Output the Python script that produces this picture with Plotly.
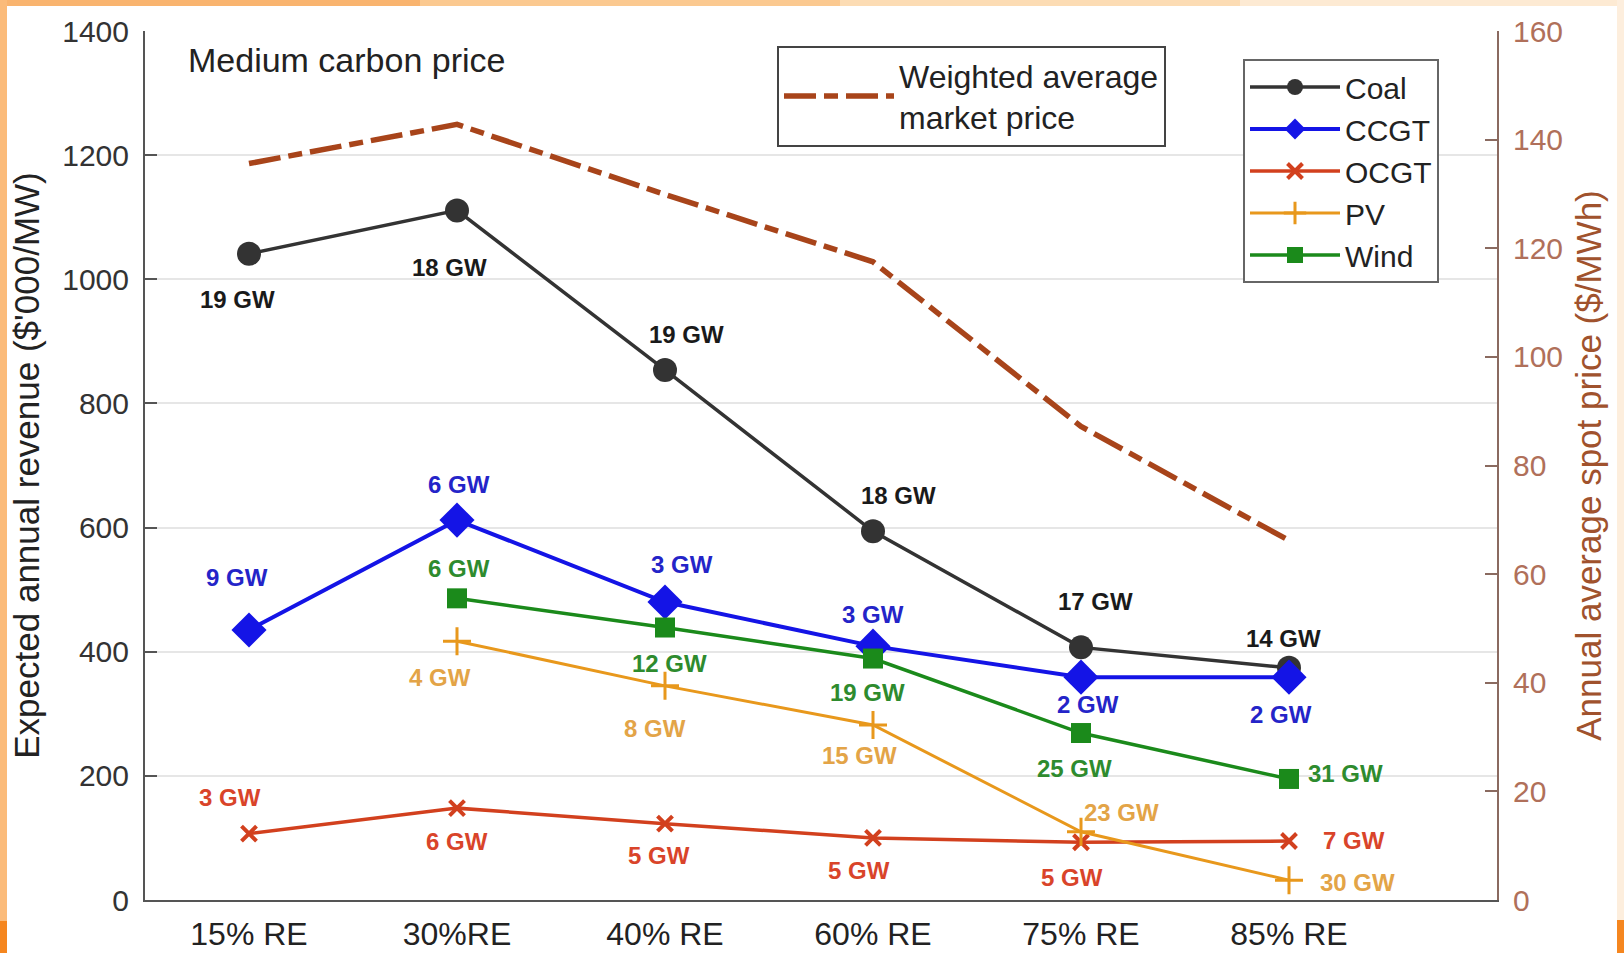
import plotly.graph_objects as go

# ---------------- data ----------------
categories = ["15% RE", "30%RE", "40% RE", "60% RE", "75% RE", "85% RE"]
coal = [1041, 1111, 854, 594, 407, 374]
ccgt = [435, 612, 480, 409, 359, 359]
ocgt = [107, 148, 123, 100, 93, 95]
pv = [None, 417, 345, 282, 110, 32]
wind = [None, 486, 439, 389, 269, 195]
price = [135.6, 142.8, 129.9, 117.5, 87.2, 66.2]

coal_labels = ["19 GW", "18 GW", "19 GW", "18 GW", "17 GW", "14 GW"]
ccgt_labels = ["9 GW", "6 GW", "3 GW", "3 GW", "2 GW", "2 GW"]
ocgt_labels = ["3 GW", "6 GW", "5 GW", "5 GW", "5 GW", "7 GW"]
pv_labels = [None, "4 GW", "8 GW", "15 GW", "23 GW", "30 GW"]
wind_labels = [None, "6 GW", "12 GW", "19 GW", "25 GW", "31 GW"]

# ---------------- label offsets (pixels) ----------------
coal_off = [(-12, -46), (-8, -57), (21, 35), (25, 36), (14, 46), (-6, 29)]
ccgt_off = [(-12, 52), (2, 36), (17, 38), (0, 32), (7, -27), (-8, -37)]
ocgt_off = [(-19, 36), (0, -33), (-6, -32), (-14, -33), (-9, -35), (65, 1)]
pv_off = [None, (-17, -36), (-10, -43), (-14, -31), (40, 19), (68, -2)]
wind_off = [None, (2, 30), (4, -36), (-6, -34), (-7, -35), (56, 5)]

x_idx = list(range(len(categories)))

FONT = "Liberation Sans, Arial, sans-serif"

fig = go.Figure()

fig.add_trace(go.Scatter(
    x=x_idx, y=price, yaxis="y2", mode="lines",
    name="Weighted average<br>market price",
    line=dict(color="#A8441A", width=5.5, dash="32px,8px,14px,8px"),
    legend="legend",
))

series = [
    ("Coal", coal, dict(color="#333333", width=3.5), dict(symbol="circle", size=24, color="#333333")),
    ("CCGT", ccgt, dict(color="#1414E6", width=4), dict(symbol="diamond", size=27, color="#1414E6")),
    ("OCGT", ocgt, dict(color="#D2401E", width=3.5), dict(symbol="x-thin", size=15, line=dict(color="#D2401E", width=4))),
    ("PV", pv, dict(color="#E8981C", width=3), dict(symbol="cross-thin", size=20, line=dict(color="#E8981C", width=3))),
    ("Wind", wind, dict(color="#1B8A1B", width=3.5), dict(symbol="square", size=20, color="#1B8A1B")),
]
for name, vals, line, marker in series:
    fig.add_trace(go.Scatter(
        x=x_idx, y=vals, mode="lines+markers", name=name,
        line=line, marker=marker, legend="legend2",
    ))

label_sets = [
    (coal, coal_labels, coal_off, "#1a1a1a"),
    (ccgt, ccgt_labels, ccgt_off, "#2424C8"),
    (ocgt, ocgt_labels, ocgt_off, "#D9442A"),
    (pv, pv_labels, pv_off, "#E3A447"),
    (wind, wind_labels, wind_off, "#2E8B2E"),
]
for vals, labels, offs, color in label_sets:
    for i, (v, lab, off) in enumerate(zip(vals, labels, offs)):
        if v is None or lab is None:
            continue
        fig.add_annotation(
            x=x_idx[i], y=v, xref="x", yref="y", text="<b>%s</b>" % lab,
            showarrow=False, xshift=off[0], yshift=off[1],
            font=dict(size=24, color=color, family=FONT),
            xanchor="center", yanchor="middle",
        )

# ---------------- layout geometry ----------------
W, H = 1624, 953
ML, MR, MT, MB = 145, 127, 31, 53
PW, PH = W - ML - MR, H - MT - MB


def px(xp):
    return (xp - ML) / PW


def py(yp):
    return (H - MB - yp) / PH


fig.add_annotation(
    x=px(186), y=py(60), xref="paper", yref="paper", text="Medium carbon price",
    showarrow=False, xanchor="left", yanchor="middle",
    font=dict(size=34, color="#222222", family=FONT),
)

# decorative slide frame
frame = [
    (0, 0, 420, 6, "#F9B46F"),
    (420, 0, 840, 6, "#FBC990"),
    (840, 0, 1240, 6, "#FCDCB4"),
    (1240, 0, 1624, 6, "#FDEAD3"),
    (0, 0, 7, 921, "#FBBB7A"),
    (0, 921, 7, 953, "#F5861F"),
    (1617, 0, 1624, 920, "#FDEEDD"),
    (1617, 920, 1624, 953, "#F5861F"),
]
for x0, y0, x1, y1, c in frame:
    fig.add_shape(type="rect", xref="paper", yref="paper",
                  x0=px(x0), x1=px(x1), y0=py(y1), y1=py(y0),
                  fillcolor=c, line=dict(width=0), layer="above")

fig.update_layout(
    width=W, height=H,
    margin=dict(l=ML, r=MR, t=MT, b=MB, autoexpand=False),
    paper_bgcolor="white", plot_bgcolor="white",
    font=dict(family=FONT, color="#222222"),
    xaxis=dict(
        range=[-0.5, 6.0], tickmode="array", tickvals=x_idx, ticktext=categories,
        showgrid=False, zeroline=False, showline=True, linecolor="#555555", linewidth=2,
        ticks="", tickfont=dict(size=32, color="#222222"), ticklabelstandoff=5,
    ),
    yaxis=dict(
        range=[0, 1400], dtick=200, ticks="inside", ticklen=12, tickwidth=2, tickcolor="#555555",
        showline=True, linecolor="#555555", linewidth=2, zeroline=False,
        showgrid=True, gridcolor="#E6E6E6", gridwidth=1.5,
        tickfont=dict(size=30, color="#333333"), ticklabelstandoff=8,
        title=dict(text="Expected annual revenue ($'000/MW)", font=dict(size=35, color="#222222"), standoff=12),
    ),
    yaxis2=dict(
        overlaying="y", side="right", range=[0, 160], dtick=20,
        ticks="inside", ticklen=12, tickwidth=2, tickcolor="#8A6A60",
        showline=True, linecolor="#8A6A60", linewidth=2, zeroline=False, showgrid=False,
        tickfont=dict(size=30, color="#B0705A"), ticklabelstandoff=8,
        title=dict(text="Annual average spot price ($/MWh)", font=dict(size=35, color="#A0522D"), standoff=14),
    ),
    legend=dict(
        x=px(777), y=py(46), xanchor="left", yanchor="top",
        bgcolor="white", bordercolor="#444444", borderwidth=2,
        font=dict(size=32, color="#222222", family=FONT), itemwidth=110,
        entrywidth=410, entrywidthmode="pixels",
    ),
    legend2=dict(
        x=px(1243), y=py(59), xanchor="left", yanchor="top",
        bgcolor="white", bordercolor="#666666", borderwidth=2,
        font=dict(size=30, color="#222222", family=FONT), itemwidth=90,
        tracegroupgap=0,
    ),
    showlegend=True,
)

fig.write_html(
    "out.html",
    config={"displayModeBar": False},
    post_script="document.body.style.margin='0';document.body.style.overflow='hidden';",
)
